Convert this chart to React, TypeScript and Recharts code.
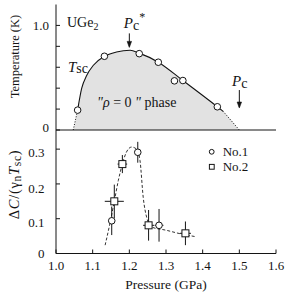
import React from 'react';
import {
  ComposedChart,
  Line,
  Area,
  Scatter,
  XAxis,
  YAxis,
  ErrorBar,
  ReferenceLine,
  ReferenceDot,
  Legend,
} from 'recharts';

const FONT = "'Liberation Serif', 'DejaVu Serif', serif";
const INK = '#141414';
const FILL = '#e2e2e2';

// ---------- Top panel: Tsc(P) ----------
const tscCurveP = [1.047, 1.059, 1.07, 1.084, 1.102, 1.132, 1.165, 1.202, 1.227, 1.279, 1.346, 1.44, 1.456, 1.5];
const tscCurveT = [0, 0.19, 0.397, 0.524, 0.619, 0.705, 0.746, 0.762, 0.735, 0.648, 0.473, 0.222, 0.178, 0];
const tscPointP = [1.059, 1.132, 1.227, 1.279, 1.323, 1.346, 1.44];
const tscPointT = [0.19, 0.705, 0.73, 0.648, 0.47, 0.473, 0.222];
const tempTicks = [0, 0.2, 0.4, 0.6, 0.8, 1.0];
const tempTickLabels = ['0', '', '', '', '', '1.0'];
const topPressureTicks = [1.1, 1.2, 1.3, 1.4, 1.5];

// ---------- Bottom panel: ΔC/(γn Tsc) ----------
const seriesNames = ['No.1', 'No.2'];
const no1P = [1.152, 1.223, 1.281];
const no1V = [0.094, 0.291, 0.081];
const no1Ey = [0.041, 0.03, 0.047];
const no1Ex = [0, 0, 0.012];
const no2P = [1.159, 1.181, 1.2525, 1.353];
const no2V = [0.15, 0.257, 0.081, 0.058];
const no2Ey = [0.048, 0.026, 0.044, 0.034];
const no2Ex = [0.026, 0.013, 0.015, 0.015];
const guideP = [1.134, 1.147, 1.159, 1.17, 1.181, 1.191, 1.206, 1.22, 1.229, 1.238, 1.247, 1.261, 1.3, 1.338, 1.383];
const guideV = [0.024, 0.086, 0.15, 0.21, 0.257, 0.289, 0.306, 0.3, 0.268, 0.16, 0.105, 0.076, 0.067, 0.057, 0.048];
const dcTicks = [0, 0.1, 0.2, 0.3];
const dcTickLabels = ['0', '0.1', '0.2', '0.3'];
const pressureTicks = [1.0, 1.1, 1.2, 1.3, 1.4, 1.5, 1.6];
const pressureTickLabels = ['1.0', '1.1', '1.2', '1.3', '1.4', '1.5', '1.6'];

const curveData = tscCurveP.map((p, i) => ({ p, t: tscCurveT[i] }));
const solidData = curveData.slice(1, curveData.length - 1);
const dotLeftData = curveData.slice(0, 2);
const dotRightData = curveData.slice(curveData.length - 2);
const tscPoints = tscPointP.map((p, i) => ({ p, t: tscPointT[i] }));
const no1Data = no1P.map((p, i) => ({ p, v: no1V[i], ey: no1Ey[i], ex: no1Ex[i] }));
const no2Data = no2P.map((p, i) => ({ p, v: no2V[i], ey: no2Ey[i], ex: no2Ex[i] }));
const guideData = guideP.map((p, i) => ({ p, v: guideV[i] }));

const idx = (arr: number[], v: number) => arr.findIndex((t) => Math.abs(t - v) < 1e-9);
const txt = { fontFamily: FONT };

const makeLeftTick = (ticks: number[], labels: string[], gap: number, dys: number[]) => (props: any) => {
  const { x, y, payload } = props;
  const i = idx(ticks, payload.value);
  const label = i >= 0 ? labels[i] : '';
  return (
    <g>
      <line x1={x} x2={x + 4} y1={y} y2={y} stroke={INK} strokeWidth={1} />
      {label ? (
        <text x={x - gap} y={y + dys[i]} textAnchor="end" fontSize={13} style={txt} fill={INK}>
          {label}
        </text>
      ) : null}
    </g>
  );
};

const RightTick = (props: any) => {
  const { x, y } = props;
  return <line x1={x} x2={x - 4} y1={y} y2={y} stroke={INK} strokeWidth={1} />;
};

const TopTick = (props: any) => {
  const { x, y } = props;
  return <line x1={x} x2={x} y1={y} y2={y + 4} stroke={INK} strokeWidth={1} />;
};

const BottomTick = (props: any) => {
  const { x, y, payload } = props;
  const i = idx(pressureTicks, payload.value);
  return (
    <g>
      <line x1={x} x2={x} y1={y} y2={y - 4} stroke={INK} strokeWidth={1} />
      <text x={x} y={y + 16.5} textAnchor="middle" fontSize={13} style={txt} fill={INK}>
        {i >= 0 ? pressureTickLabels[i] : ''}
      </text>
    </g>
  );
};

const topLeftTick = makeLeftTick(tempTicks, tempTickLabels, 7, [1.7, 0, 0, 0, 0, 4.3]);
const bottomLeftTick = makeLeftTick(dcTicks, dcTickLabels, 11.5, [4.8, 8.5, 8.8, 7.7]);

const TempLabel = (props: any) => {
  const vb = props.viewBox || { x: 0, y: 0 };
  const cx = vb.x + 15;
  const cy = vb.y + 52;
  return (
    <text
      x={cx}
      y={cy}
      transform={`rotate(-90, ${cx}, ${cy})`}
      textAnchor="middle"
      dominantBaseline="central"
      fontSize={12.5}
      style={txt}
      fill={INK}
    >
      Temperature (K)
    </text>
  );
};

const DcLabel = (props: any) => {
  const vb = props.viewBox || { x: 0, y: 0 };
  const cx = vb.x + 14;
  const cy = vb.y + 54.5;
  return (
    <text
      x={cx}
      y={cy}
      transform={`rotate(-90, ${cx}, ${cy})`}
      textAnchor="middle"
      dominantBaseline="central"
      fontSize={14.5}
      letterSpacing={0.7}
      style={txt}
      fill={INK}
    >
      Δ<tspan fontStyle="italic">C</tspan>/(γ
      <tspan fontSize={11.5} dy={3}>n</tspan>
      <tspan fontStyle="italic" dy={-3}>T</tspan>
      <tspan fontSize={11.5} dy={3}>sc</tspan>
      <tspan dy={-3}>)</tspan>
    </text>
  );
};

const PressureLabel = (props: any) => {
  const vb = props.viewBox || { x: 0, y: 0, width: 0, height: 0 };
  return (
    <text
      x={vb.x + vb.width / 2}
      y={vb.y + vb.height - 6}
      textAnchor="middle"
      fontSize={13.5}
      style={txt}
      fill={INK}
    >
      Pressure (GPa)
    </text>
  );
};

const circleShape = (props: any) => (
  <circle cx={props.cx} cy={props.cy} r={3.3} fill="#fff" stroke={INK} strokeWidth={1} />
);
const squareShape = (props: any) => (
  <rect x={props.cx - 3.5} y={props.cy - 3.5} width={7} height={7} fill="#fff" stroke={INK} strokeWidth={1} />
);

const arrowShape = (len: number) => (props: any) => {
  const { cx, cy } = props;
  return (
    <g>
      <line x1={cx} x2={cx} y1={cy - len} y2={cy - 1} stroke={INK} strokeWidth={1} />
      <path d={`M${cx - 2.2},${cy - 6} L${cx},${cy} L${cx + 2.2},${cy - 6} Z`} fill={INK} stroke={INK} strokeWidth={0.6} />
    </g>
  );
};

const textShape = (content: React.ReactNode) => (props: any) => (
  <text x={props.cx} y={props.cy} fontSize={14} style={txt} fill={INK}>
    {content}
  </text>
);

const LegendContent = () => (
  <svg width={60} height={32} style={{ display: 'block', overflow: 'visible' }}>
    <circle cx={6.7} cy={8.8} r={2.4} fill="#fff" stroke={INK} strokeWidth={1} />
    <text x={17.7} y={12.5} fontSize={13} style={txt} fill={INK}>
      {seriesNames[0]}
    </text>
    <rect x={4.4} y={21.4} width={4.8} height={4.8} fill="#fff" stroke={INK} strokeWidth={1} />
    <text x={17.7} y={27.5} fontSize={13} style={txt} fill={INK}>
      {seriesNames[1]}
    </text>
  </svg>
);

export default function App() {
  return (
    <div style={{ position: 'absolute', left: 0, top: 0, width: 291, height: 295, background: '#fff', fontFamily: FONT }}>
      <div style={{ position: 'absolute', left: 0, top: 0 }}>
        <ComposedChart width={291} height={140} margin={{ top: 4.5, right: 15, bottom: 10, left: 0 }}>
          <XAxis
            orientation="top"
            type="number"
            dataKey="p"
            domain={[1.0, 1.6]}
            allowDataOverflow
            ticks={topPressureTicks}
            interval={0}
            height={0}
            tickSize={0}
            tickMargin={0}
            tickLine={false}
            axisLine={{ stroke: INK }}
            tick={TopTick}
          />
          <YAxis
            type="number"
            domain={[0, 1.2]}
            allowDataOverflow
            ticks={tempTicks}
            interval={0}
            width={56}
            tickSize={0}
            tickMargin={0}
            tickLine={false}
            axisLine={{ stroke: INK }}
            tick={topLeftTick}
            label={TempLabel}
          />
          <YAxis
            yAxisId="r"
            orientation="right"
            type="number"
            domain={[0, 1.2]}
            allowDataOverflow
            ticks={tempTicks}
            interval={0}
            width={0}
            tickSize={0}
            tickMargin={0}
            tickLine={false}
            axisLine={{ stroke: INK }}
            tick={RightTick}
          />
          <Area
            data={curveData}
            dataKey="t"
            type="monotone"
            stroke="none"
            fill={FILL}
            fillOpacity={1}
            isAnimationActive={false}
          />
          <ReferenceLine y={0} stroke={INK} strokeWidth={1} />
          <Line
            data={dotLeftData}
            dataKey="t"
            type="linear"
            stroke={INK}
            strokeWidth={1}
            strokeDasharray="1 1.6"
            dot={false}
            isAnimationActive={false}
          />
          <Line
            data={dotRightData}
            dataKey="t"
            type="linear"
            stroke={INK}
            strokeWidth={1}
            strokeDasharray="1 1.6"
            dot={false}
            isAnimationActive={false}
          />
          <Line
            data={solidData}
            dataKey="t"
            type="monotone"
            stroke={INK}
            strokeWidth={1.1}
            dot={false}
            isAnimationActive={false}
          />
          <Scatter data={tscPoints} dataKey="t" shape={circleShape} isAnimationActive={false} />
          <ReferenceDot x={1.2} y={0.79} r={0} shape={arrowShape(14)} />
          <ReferenceDot x={1.5} y={0.21} r={0} shape={arrowShape(18)} />
          <ReferenceDot
            x={1.03}
            y={0.981}
            r={0}
            shape={textShape(
              <>
                UGe<tspan fontSize={10} dy={3}>2</tspan>
              </>
            )}
          />
          <ReferenceDot
            x={1.185}
            y={0.971}
            r={0}
            shape={textShape(
              <>
                <tspan fontStyle="italic" fontSize={15}>P</tspan>
                <tspan dy={2}>c</tspan>
                <tspan fontSize={12} dy={-9}>*</tspan>
              </>
            )}
          />
          <ReferenceDot
            x={1.0327}
            y={0.557}
            r={0}
            shape={textShape(
              <>
                <tspan fontStyle="italic" fontSize={15}>T</tspan>
                <tspan dy={1.5}>sc</tspan>
              </>
            )}
          />
          <ReferenceDot
            x={1.112}
            y={0.219}
            r={0}
            shape={textShape(
              <>
                <tspan fontStyle="italic">"ρ</tspan> = 0 <tspan fontStyle="italic">"</tspan> phase
              </>
            )}
          />
          <ReferenceDot
            x={1.48}
            y={0.419}
            r={0}
            shape={textShape(
              <>
                <tspan fontStyle="italic" fontSize={15}>P</tspan>
                <tspan dy={2}>c</tspan>
              </>
            )}
          />
        </ComposedChart>
      </div>
      <div style={{ position: 'absolute', left: 0, top: 125 }}>
        <ComposedChart width={291} height={170} margin={{ top: 5, right: 15, bottom: 0, left: 0 }}>
          <XAxis
            type="number"
            dataKey="p"
            domain={[1.0, 1.6]}
            allowDataOverflow
            ticks={pressureTicks}
            interval={0}
            height={41.5}
            tickSize={0}
            tickMargin={0}
            tickLine={false}
            axisLine={{ stroke: INK }}
            tick={BottomTick}
            label={PressureLabel}
          />
          <YAxis
            type="number"
            domain={[0, 0.355]}
            allowDataOverflow
            ticks={dcTicks}
            interval={0}
            width={56}
            tickSize={0}
            tickMargin={0}
            tickLine={false}
            axisLine={{ stroke: INK }}
            tick={bottomLeftTick}
            label={DcLabel}
          />
          <YAxis
            yAxisId="r"
            orientation="right"
            type="number"
            domain={[0, 0.355]}
            allowDataOverflow
            ticks={dcTicks}
            interval={0}
            width={0}
            tickSize={0}
            tickMargin={0}
            tickLine={false}
            axisLine={{ stroke: INK }}
            tick={RightTick}
          />
          <Line
            data={guideData}
            dataKey="v"
            type="monotone"
            stroke="#333"
            strokeWidth={1}
            strokeDasharray="3 2"
            dot={false}
            isAnimationActive={false}
          />
          <Scatter name={seriesNames[0]} data={no1Data} dataKey="v" shape={circleShape} isAnimationActive={false}>
            <ErrorBar dataKey="ey" direction="y" width={0} stroke={INK} strokeWidth={1} />
            <ErrorBar dataKey="ex" direction="x" width={0} stroke={INK} strokeWidth={1} />
          </Scatter>
          <Scatter name={seriesNames[1]} data={no2Data} dataKey="v" shape={squareShape} isAnimationActive={false}>
            <ErrorBar dataKey="ey" direction="y" width={0} stroke={INK} strokeWidth={1} />
            <ErrorBar dataKey="ex" direction="x" width={0} stroke={INK} strokeWidth={1} />
          </Scatter>
          <Legend
            layout="vertical"
            align="center"
            verticalAlign="middle"
            content={LegendContent}
            wrapperStyle={{ position: 'absolute', left: 205, top: 18, width: 60, height: 32 }}
          />
        </ComposedChart>
      </div>
    </div>
  );
}
